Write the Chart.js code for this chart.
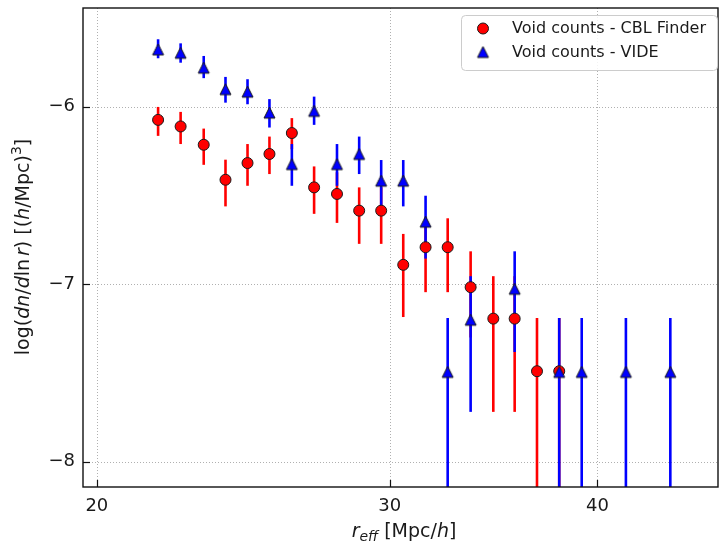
<!DOCTYPE html>
<html>
<head>
<meta charset="utf-8">
<script src="https://cdn.jsdelivr.net/npm/chart.js@4.4.1/dist/chart.umd.min.js"></script>
<style>
  body { margin: 0; background: #fff; }
  canvas { display: block; }
</style>
</head>
<body>
<canvas id="voidChart" width="719" height="545"></canvas>
<script>
// valori: r_eff [Mpc/h] e log(dn/dlnr)
const rCbl = [21.77, 22.46, 23.19, 23.90, 24.64, 25.40, 26.20, 27.02, 27.89, 28.76, 29.65, 30.57, 31.53, 32.51, 33.56, 34.63, 35.67, 36.79, 37.94];
const logCbl = [-6.075, -6.112, -6.215, -6.412, -6.318, -6.267, -6.149, -6.455, -6.492, -6.586, -6.586, -6.891, -6.792, -6.792, -7.017, -7.194, -7.194, -7.490, -7.490];
const cblHigh = [-6.002, -6.030, -6.124, -6.299, -6.211, -6.169, -6.065, -6.337, -6.370, -6.455, -6.455, -6.717, -6.630, -6.629, -6.815, -6.955, -6.955, -7.191, -7.191];
const cblLow = [-6.165, -6.211, -6.328, -6.562, -6.446, -6.380, -6.240, -6.604, -6.655, -6.773, -6.773, -7.185, -7.045, -7.045, -7.300, -7.719, -7.719, -9, -9];

const rVide = [21.77, 22.46, 23.19, 23.90, 24.64, 25.40, 26.20, 27.02, 27.89, 28.76, 29.65, 30.57, 31.53, 32.51, 33.56, 35.67, 37.94, 39.14, 41.61, 44.25];
const logVide = [-5.678, -5.697, -5.781, -5.902, -5.916, -6.034, -6.324, -6.024, -6.324, -6.267, -6.417, -6.417, -6.648, -7.494, -7.200, -7.026, -7.494, -7.494, -7.494, -7.494];
const videHigh = [-5.621, -5.644, -5.715, -5.833, -5.846, -5.958, -6.211, -5.944, -6.211, -6.169, -6.301, -6.301, -6.502, -7.191, -6.955, -6.815, -7.191, -7.191, -7.191, -7.191];
const videLow = [-5.728, -5.753, -5.840, -5.978, -5.987, -6.118, -6.446, -6.103, -6.446, -6.380, -6.558, -6.562, -6.856, -9, -7.719, -7.382, -9, -9, -9, -9];

const xTicks = [20, 30, 40];
const yTicks = [-8, -7, -6];
const labels = ["Void counts - CBL Finder", "Void counts - VIDE"];

const FONT = "'DejaVu Sans', sans-serif";

// triangolo stile matplotlib (centrato sul bounding box)
function makeTriangle() {
  const c = document.createElement("canvas");
  c.width = 15; c.height = 15;
  const g = c.getContext("2d");
  g.beginPath();
  g.moveTo(7.5, 2);
  g.lineTo(13, 13);
  g.lineTo(2, 13);
  g.closePath();
  g.fillStyle = "#0000ff";
  g.fill();
  g.strokeStyle = "#1a1a1a";
  g.lineWidth = 1;
  g.stroke();
  return c;
}
const triangle = makeTriangle();

function toPoints(xs, ys) {
  return xs.map((x, i) => ({ x: x, y: ys[i] }));
}

// niente margini extra per le etichette ai bordi
function noPad(s) {
  s.paddingTop = 0; s.paddingBottom = 0;
  s.paddingLeft = 0; s.paddingRight = 0;
}

// testo con parti in corsivo / pedici
function drawRich(ctx, parts, x, y) {
  let total = 0;
  parts.forEach((p) => {
    ctx.font = (p.it ? "italic " : "") + (p.sz || 19) + "px " + FONT;
    p.w = ctx.measureText(p.t).width + (p.dx || 0);
    total += p.w;
  });
  let cx = x - total / 2;
  ctx.textAlign = "left";
  ctx.textBaseline = "alphabetic";
  parts.forEach((p) => {
    ctx.font = (p.it ? "italic " : "") + (p.sz || 19) + "px " + FONT;
    ctx.fillText(p.t, cx, y + (p.dy || 0));
    cx += p.w;
  });
}

const framePlugin = {
  id: "frame",
  afterLayout(chart) {
    // area del grafico fino a x = 718
    const a = chart.chartArea;
    a.right = 718;
    a.width = a.right - a.left;
    const x = chart.scales.x;
    x.right = 718;
    x.width = x.right - x.left;
    x.configure();
  },
  beforeDraw(chart) {
    const ctx = chart.ctx;
    ctx.save();
    ctx.fillStyle = "#fff";
    ctx.fillRect(0, 0, chart.width, chart.height);
    ctx.restore();
  },
  beforeDatasetsDraw(chart) {
    const { ctx, chartArea: a, scales } = chart;
    ctx.save();
    // griglia punteggiata
    ctx.strokeStyle = "#b0b0b0";
    ctx.lineWidth = 1;
    ctx.setLineDash([1, 2]);
    xTicks.forEach((v) => {
      const px = Math.round(scales.x.getPixelForValue(v)) + 0.5;
      ctx.beginPath(); ctx.moveTo(px, a.top); ctx.lineTo(px, a.bottom); ctx.stroke();
    });
    yTicks.forEach((v) => {
      const py = Math.round(scales.y.getPixelForValue(v)) + 0.5;
      ctx.beginPath(); ctx.moveTo(a.left, py); ctx.lineTo(a.right, py); ctx.stroke();
    });
    ctx.setLineDash([]);
    // barre d'errore
    ctx.beginPath();
    ctx.rect(a.left, a.top, a.right - a.left, a.bottom - a.top);
    ctx.clip();
    ctx.lineWidth = 2.6;
    [0, 1].forEach((di) => {
      const ds = chart.data.datasets[di];
      ctx.strokeStyle = ds.errColor;
      ds.data.forEach((p, i) => {
        const px = scales.x.getPixelForValue(p.x);
        ctx.beginPath();
        ctx.moveTo(px, scales.y.getPixelForValue(ds.errHigh[i]));
        ctx.lineTo(px, scales.y.getPixelForValue(ds.errLow[i]));
        ctx.stroke();
      });
    });
    ctx.restore();
  },
  afterDraw(chart) {
    const { ctx, chartArea: a, scales } = chart;
    ctx.save();
    // tacche interne e cornice
    ctx.strokeStyle = "#111";
    ctx.lineWidth = 1.2;
    xTicks.forEach((v) => {
      const px = Math.round(scales.x.getPixelForValue(v)) + 0.5;
      ctx.beginPath(); ctx.moveTo(px, a.bottom); ctx.lineTo(px, a.bottom - 7); ctx.stroke();
    });
    yTicks.forEach((v) => {
      const py = Math.round(scales.y.getPixelForValue(v)) + 0.5;
      ctx.beginPath(); ctx.moveTo(a.left, py); ctx.lineTo(a.left + 7, py); ctx.stroke();
    });
    ctx.lineWidth = 1.4;
    ctx.strokeRect(a.left, a.top, a.right - a.left, a.bottom - a.top);

    // legenda
    ctx.beginPath();
    ctx.roundRect(461.5, 15.5, 256, 55, 4);
    ctx.fillStyle = "rgba(255,255,255,0.85)";
    ctx.fill();
    ctx.strokeStyle = "#cccccc";
    ctx.lineWidth = 1;
    ctx.stroke();
    ctx.beginPath();
    ctx.arc(483, 28.5, 5.5, 0, Math.PI * 2);
    ctx.fillStyle = "#ff0000";
    ctx.fill();
    ctx.strokeStyle = "#1a1a1a";
    ctx.stroke();
    ctx.drawImage(triangle, 483 - 7.5, 52 - 7.5);
    ctx.fillStyle = "#1a1a1a";
    ctx.font = "16px " + FONT;
    ctx.textAlign = "left";
    ctx.textBaseline = "middle";
    ctx.fillText(labels[0], 512, 29);
    ctx.fillText(labels[1], 512, 53);

    // titoli degli assi
    ctx.fillStyle = "#1a1a1a";
    drawRich(ctx, [
      { t: "r", it: true },
      { t: "eff", it: true, sz: 14, dy: 4 },
      { t: " [Mpc/" },
      { t: "h", it: true },
      { t: "]" }
    ], 404, 537);
    ctx.translate(29, 247);
    ctx.rotate(-Math.PI / 2);
    drawRich(ctx, [
      { t: "log(" },
      { t: "dn", it: true },
      { t: "/" },
      { t: "d", it: true },
      { t: "ln", dx: 3 },
      { t: "r", it: true },
      { t: ") [(" },
      { t: "h", it: true },
      { t: "/Mpc)" },
      { t: "3", sz: 14, dy: -8 },
      { t: "]" }
    ], 0, 0);
    ctx.restore();
  }
};

new Chart(document.getElementById("voidChart"), {
  type: "scatter",
  data: {
    datasets: [
      {
        label: labels[0],
        data: toPoints(rCbl, logCbl),
        errHigh: cblHigh,
        errLow: cblLow,
        errColor: "#ff0000",
        pointStyle: "circle",
        pointRadius: 5.5,
        pointBackgroundColor: "#ff0000",
        pointBorderColor: "#1a1a1a",
        pointBorderWidth: 1,
        order: 2
      },
      {
        label: labels[1],
        data: toPoints(rVide, logVide),
        errHigh: videHigh,
        errLow: videLow,
        errColor: "#0000ff",
        pointStyle: triangle,
        pointRadius: 7,
        order: 1
      }
    ]
  },
  options: {
    responsive: false,
    animation: false,
    events: [],
    layout: { padding: { top: 7, right: 1, left: 0, bottom: 0 } },
    plugins: { legend: { display: false }, tooltip: { enabled: false } },
    scales: {
      x: {
        type: "logarithmic",
        min: 19.62,
        max: 47.27,
        afterBuildTicks: (s) => { s.ticks = xTicks.map((v) => ({ value: v })); },
        afterFit: (s) => { s.height = 58; noPad(s); },
        grid: { display: false, drawTicks: false },
        border: { display: false },
        ticks: {
          autoSkip: false,
          maxRotation: 0,
          padding: 9,
          color: "#1a1a1a",
          font: { family: FONT, size: 18 },
          callback: (v) => String(v)
        }
      },
      y: {
        min: -8.142,
        max: -5.445,
        afterBuildTicks: (s) => { s.ticks = yTicks.map((v) => ({ value: v })); },
        afterFit: (s) => { s.width = 83; noPad(s); },
        grid: { display: false, drawTicks: false },
        border: { display: false },
        ticks: {
          padding: 8,
          color: "#1a1a1a",
          font: { family: FONT, size: 18 },
          callback: (v) => "\u2212" + Math.abs(v)
        }
      }
    }
  },
  plugins: [framePlugin]
});
</script>
</body>
</html>
